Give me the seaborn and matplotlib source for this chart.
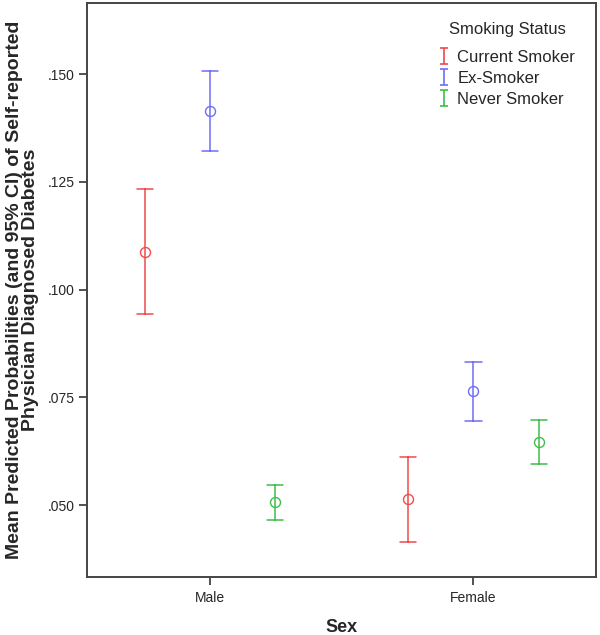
import numpy as np
import pandas as pd
import matplotlib
matplotlib.use("Agg")
import matplotlib.pyplot as plt
from matplotlib.lines import Line2D
from matplotlib.path import Path
import seaborn as sns

sex = ["Male", "Female"]
status = ["Current Smoker", "Ex-Smoker", "Never Smoker"]
# rows: sex, columns: status
means = {"Male": [0.1088, 0.1414, 0.0507], "Female": [0.0514, 0.0764, 0.0646]}
lower = {"Male": [0.0944, 0.1322, 0.0465], "Female": [0.0414, 0.0694, 0.0595]}
upper = {"Male": [0.1234, 0.1507, 0.0546], "Female": [0.0611, 0.0833, 0.0697]}
yticks = [0.050, 0.075, 0.100, 0.125, 0.150]
ytick_labels = [".050", ".075", ".100", ".125", ".150"]
colors = ["#f04a4a", "#6e6ef2", "#3dbf4a"]

rows = []
for s in sex:
    for i, st in enumerate(status):
        for v in (lower[s][i], means[s][i], upper[s][i]):
            rows.append({"Sex": s, "Smoking Status": st, "value": v})
df = pd.DataFrame(rows)

sns.set_style("white")
plt.rcParams["font.family"] = ["Liberation Sans", "DejaVu Sans"]

fig = plt.figure(figsize=(6.0, 6.35), dpi=100)
ax = fig.add_axes([0.145, 0.0913, 0.8483, 0.904])

sns.pointplot(
    data=df, x="Sex", y="value", hue="Smoking Status",
    order=sex, hue_order=status, palette=colors,
    estimator="median", errorbar=lambda v: (v.min(), v.max()),
    dodge=0.494, capsize=0.061, linestyle="none",
    markers="o", markersize=7.2, markeredgewidth=1.0,
    markerfacecolor="none",
    err_kws={"linestyle": "-", "linewidth": 1.1},
    legend=False, ax=ax,
)

ax.set_xlim(-0.467, 1.465)
ax.set_ylim(0.0333, 0.1665)
ax.set_yticks(yticks)
ax.set_yticklabels(ytick_labels)
ax.tick_params(axis="both", which="both", direction="out", length=5.8, width=1.2,
               color="#333333", labelsize=10, pad=3, left=True, bottom=True)
ax.tick_params(axis="x", pad=4)
for sp in ax.spines.values():
    sp.set_color("#444444")
    sp.set_linewidth(1.4)

ax.set_xlabel("Sex", fontsize=13, fontweight="bold")
ax.xaxis.set_label_coords(0.5, -0.073)
ax.set_ylabel("Mean Predicted Probabilities (and 95% CI) of Self-reported\nPhysician Diagnosed Diabetes",
              fontsize=14, fontweight="bold", linespacing=0.92)
ax.yaxis.set_label_coords(-0.094, 0.5)

ibar = Path([(-0.5, 1), (0.5, 1), (0, 1), (0, -1), (-0.5, -1), (0.5, -1)],
            [Path.MOVETO, Path.LINETO, Path.MOVETO, Path.LINETO, Path.MOVETO, Path.LINETO])
handles = [Line2D([], [], linestyle="none", marker=ibar, markersize=11,
                  markeredgewidth=1.2, color=c, markerfacecolor="none") for c in colors]
leg = ax.legend(handles, status, title="Smoking Status", loc="upper right",
                bbox_to_anchor=(0.982, 0.987), frameon=False, fontsize=12,
                title_fontsize=12, handlelength=0.6, handletextpad=0.5,
                labelspacing=0.36, borderaxespad=0.3)
leg._legend_box.sep = 9

fig.savefig("out.png", dpi=100)
